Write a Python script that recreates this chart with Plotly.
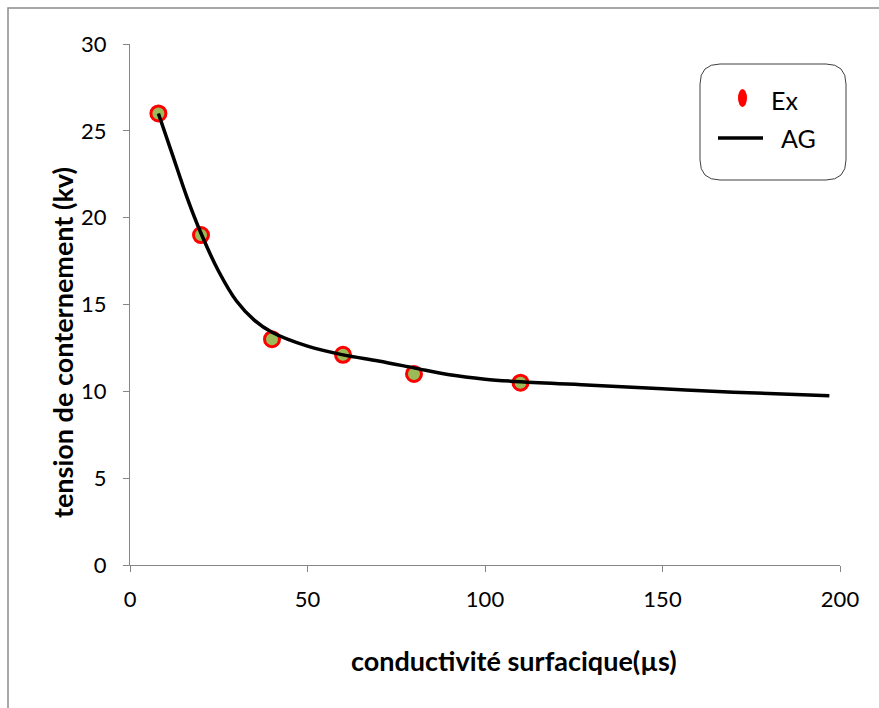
import plotly.graph_objects as go

# Experimental data (Ex)
ex_x = [8, 20, 40, 60, 80, 110]
ex_y = [26, 19, 13, 12.1, 11, 10.5]

# Fitted curve (AG)
ag_x = [8, 12, 16, 20, 25, 30, 35, 40, 50, 60, 70, 80, 90, 100, 110, 130, 150, 170, 197]
ag_y = [26, 23.6, 21.2, 19.1, 16.9, 15.2, 14.1, 13.4, 12.6, 12.1, 11.75, 11.35, 10.95, 10.7, 10.55, 10.35, 10.15, 9.95, 9.75]

x_ticks = [0, 50, 100, 150, 200]
y_ticks = [0, 5, 10, 15, 20, 25, 30]

FONT = "Lato"
AXIS_COLOR = "#868686"

fig = go.Figure()
fig.add_trace(go.Scatter(
    x=ex_x, y=ex_y, mode="markers", name="Ex",
    marker=dict(size=15, color="#9BBB59", line=dict(color="#FF0000", width=3)),
    showlegend=False, cliponaxis=False,
))
fig.add_trace(go.Scatter(
    x=ag_x, y=ag_y, mode="lines", name="AG",
    line=dict(color="black", width=3.5, shape="spline", smoothing=1.0),
    showlegend=False, cliponaxis=False,
))

# paper coordinate helpers (plot area: x 130..840, y 44..565 px)
L, R, T, B = 130, 840, 44, 565
def px(x):
    return (x - L) / (R - L)
def py(y):
    return (B - y) / (B - T)

shapes = []
# outer chart border (left and top visible)
shapes.append(dict(type="rect", xref="paper", yref="paper",
                   x0=px(8), x1=px(900), y0=py(730), y1=py(8),
                   line=dict(color="#8C8C8C", width=1.5), fillcolor="rgba(0,0,0,0)", layer="below"))
# rounded legend box
x0, x1, y0, y1, r = 700, 846, 64, 180, 20
path = (f"M {px(x0 + r)},{py(y0)} L {px(x1 - r)},{py(y0)} "
        f"Q {px(x1)},{py(y0)} {px(x1)},{py(y0 + r)} "
        f"L {px(x1)},{py(y1 - r)} Q {px(x1)},{py(y1)} {px(x1 - r)},{py(y1)} "
        f"L {px(x0 + r)},{py(y1)} Q {px(x0)},{py(y1)} {px(x0)},{py(y1 - r)} "
        f"L {px(x0)},{py(y0 + r)} Q {px(x0)},{py(y0)} {px(x0 + r)},{py(y0)} Z")
shapes.append(dict(type="path", xref="paper", yref="paper", path=path,
                   line=dict(color="#404040", width=1), fillcolor="white"))
# legend symbols
shapes.append(dict(type="circle", xref="paper", yref="paper",
                   x0=px(738), x1=px(747), y0=py(107), y1=py(89),
                   line=dict(color="#FF0000", width=0), fillcolor="#FF0000"))
shapes.append(dict(type="line", xref="paper", yref="paper",
                   x0=px(718), x1=px(763), y0=py(138), y1=py(138),
                   line=dict(color="black", width=3.5)))

annotations = [
    dict(text="Ex", xref="paper", yref="paper", x=px(769), y=py(100),
         xanchor="left", yanchor="middle", showarrow=False,
         font=dict(family=FONT, size=25, color="black")),
    dict(text="AG", xref="paper", yref="paper", x=px(779), y=py(138),
         xanchor="left", yanchor="middle", showarrow=False,
         font=dict(family=FONT, size=25, color="black")),
    dict(text="<b>conductivité surfacique(µs)</b>", xref="paper", yref="paper",
         x=px(514), y=py(660), xanchor="center", yanchor="middle", showarrow=False,
         font=dict(family=FONT, size=27, color="black")),
    dict(text="<b>tension de conternement (kv)</b>", xref="paper", yref="paper",
         x=px(63), y=py(343), xanchor="center", yanchor="middle", showarrow=False,
         textangle=-90, font=dict(family=FONT, size=27, color="black")),
]

fig.update_layout(
    width=879, height=708,
    margin=dict(l=L, r=879 - R, t=T, b=708 - B),
    paper_bgcolor="white", plot_bgcolor="white",
    font=dict(family=FONT, size=22, color="black"),
    shapes=shapes, annotations=annotations,
    xaxis=dict(range=[0, 200], tickvals=x_ticks, ticks="outside", ticklen=6,
               tickcolor=AXIS_COLOR, showline=True, linecolor=AXIS_COLOR, linewidth=1,
               showgrid=False, zeroline=False, ticklabelstandoff=9,
               tickfont=dict(family=FONT, size=22)),
    yaxis=dict(range=[0, 30], tickvals=y_ticks, ticks="outside", ticklen=6,
               tickcolor=AXIS_COLOR, showline=True, linecolor=AXIS_COLOR, linewidth=1,
               showgrid=False, zeroline=False, ticklabelstandoff=12,
               tickfont=dict(family=FONT, size=22)),
)

fig.write_html("out.html")
